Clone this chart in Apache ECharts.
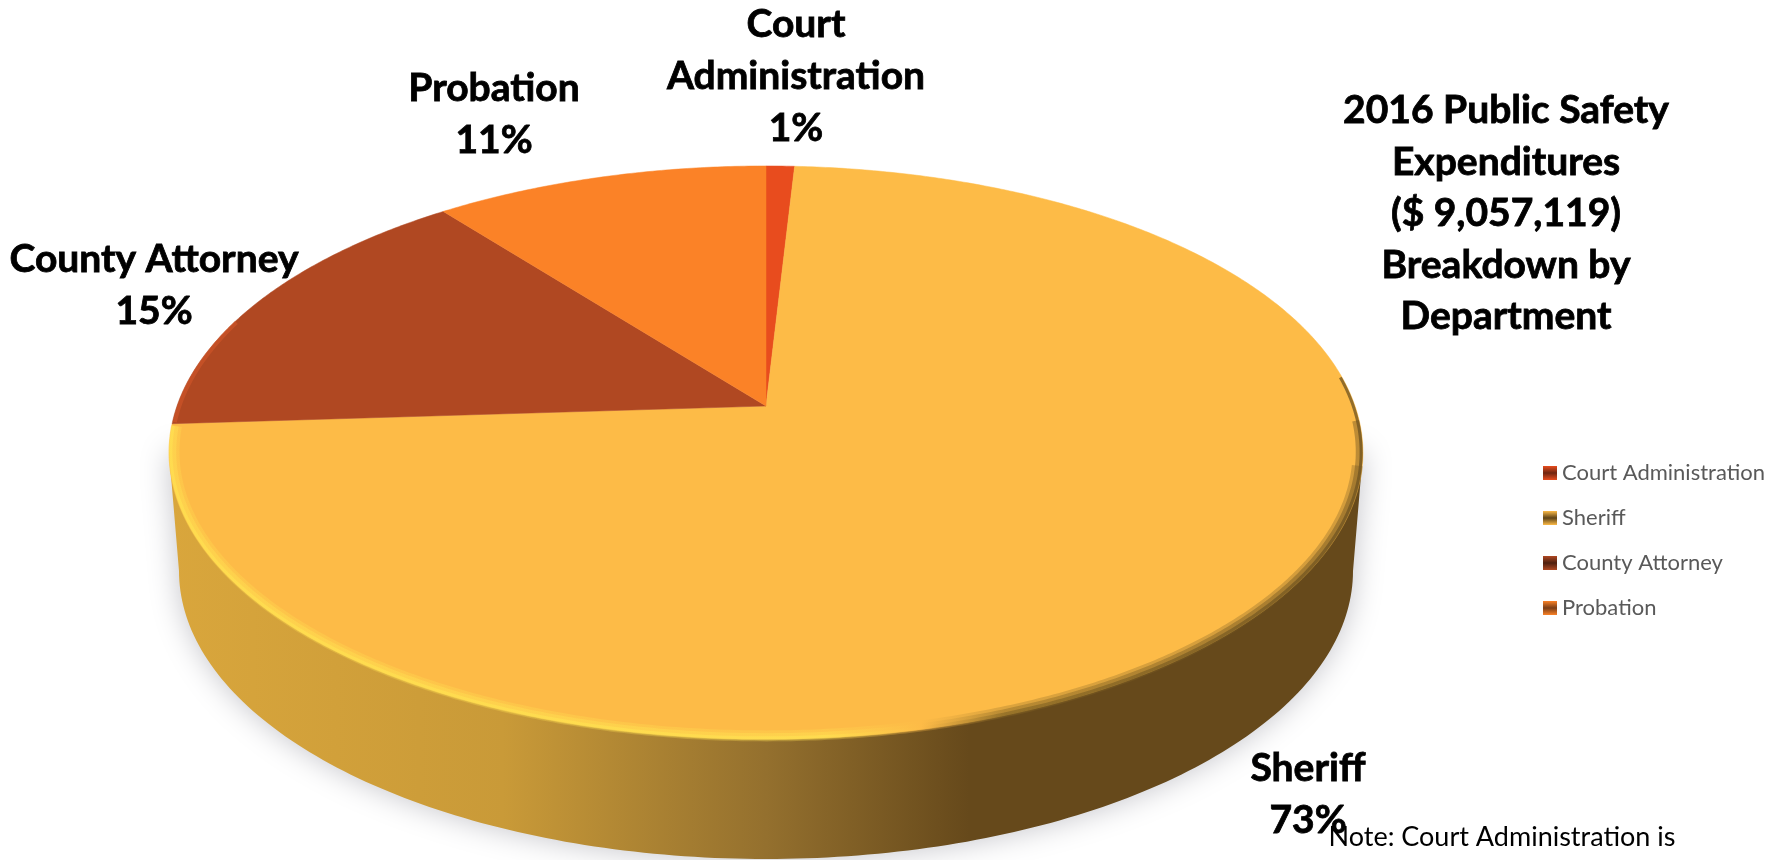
<!DOCTYPE html>
<html>
<head>
<meta charset="utf-8">
<title>2016 Public Safety Expenditures</title>
<script src="https://cdn.jsdelivr.net/npm/echarts@6/dist/echarts.min.js"></script>
<style>
  html, body { margin: 0; padding: 0; background: #fff; overflow: hidden; }
  #chart { width: 1787px; height: 860px; }
</style>
</head>
<body>
<div id="chart"></div>
<script>
const departments = ["Court Administration", "Sheriff", "County Attorney", "Probation"];
const shares = [0.9, 73.1, 15.4, 10.6];
const wrappedNames = ["Court\nAdministration", "Sheriff", "County Attorney", "Probation"];
const titleLines = ["2016 Public Safety", "Expenditures", "($ 9,057,119)", "Breakdown by", "Department"];
const noteText = "Note: Court Administration is";

const sliceColors = ["#E84C1E", "#FDBB47", "#B04822", "#FB8227"];
const legendDark = ["#6E2610", "#5E4317", "#4E200F", "#7A3E18"];
const rimTint = [null, null, "#D2562A", null];
const labelX = [796, 1308, 154, 494];
const labelY = [76, 794, 285, 114];

const FONT = "Lato, Carlito, sans-serif";
const total = shares.reduce((a, b) => a + b, 0);

// tilted disc: unit circle pushed through a perspective map, so the apex sits off the ellipse centre
const disc = { cx: 766, cy: 406, rx: 589, ry: 279, k: 0.1623 };
const base = { cx: 766, cy: 571, rx: 587, ry: 288 };

function rimPoint(deg, scale) {
  const t = deg * Math.PI / 180;
  const u = Math.sin(t) * (scale || 1);
  const v = -Math.cos(t) * (scale || 1);
  const w = 1 - disc.k * v;
  return [disc.cx + disc.rx * u / w, disc.cy + disc.ry * v / w];
}

function arc(from, to, scale) {
  const pts = [];
  const steps = Math.max(2, Math.ceil(Math.abs(to - from) * 2));
  for (let i = 0; i <= steps; i++) {
    pts.push(rimPoint(from + (to - from) * i / steps, scale));
  }
  return pts;
}

function sideWall() {
  const pts = [];
  for (let a = 0; a <= 180; a += 1) {
    const t = a * Math.PI / 180;
    pts.push([base.cx + base.rx * Math.cos(t), base.cy + base.ry * Math.sin(t)]);
  }
  pts.push([169, 452], [1363, 452]);
  return pts;
}

const sideFill = new echarts.graphic.LinearGradient(0, 0, 1, 0, [
  { offset: 0, color: "#D9A63C" },
  { offset: 0.28, color: "#C99A38" },
  { offset: 0.5, color: "#94702E" },
  { offset: 0.67, color: "#66491B" },
  { offset: 1, color: "#66491B" }
]);
const bevelStroke = new echarts.graphic.LinearGradient(0, 0, 1, 0, [
  { offset: 0, color: "#FFDF50" },
  { offset: 0.55, color: "#FFDF50" },
  { offset: 0.63, color: "#FDBB47" },
  { offset: 0.7, color: "#8E6C26" },
  { offset: 1, color: "#6E5220" }
]);
const bevelLayers = [
  { width: 11, opacity: 0.3, scale: 0.992, from: 102 },
  { width: 7, opacity: 0.45, scale: 0.994, from: 93 },
  { width: 3, opacity: 0.75, scale: 0.997, from: 84 }
];

function renderSlice(index) {
  return function (params, api) {
    const before = shares.slice(0, index).reduce((a, b) => a + b, 0);
    const start = before / total * 360;
    const end = start + api.value(0) / total * 360;
    const holdsFront = start < 180 && end > 180;
    const children = [];

    // the wall is only seen under the slice that holds the front of the disc
    if (holdsFront) {
      children.push({
        type: "polygon",
        shape: { points: sideWall() },
        style: { fill: sideFill, shadowBlur: 30, shadowColor: "rgba(40,40,60,0.28)" }
      });
    }

    children.push({
      type: "polygon",
      shape: { points: [[disc.cx, disc.cy]].concat(arc(start, end)) },
      style: { fill: sliceColors[index], stroke: sliceColors[index], lineWidth: 0.5 }
    });

    if (holdsFront) {
      bevelLayers.forEach((layer) => {
        children.push({
          type: "polyline",
          shape: { points: arc(layer.from, end - 0.5, layer.scale) },
          style: { fill: null, stroke: bevelStroke, lineWidth: layer.width, opacity: layer.opacity }
        });
      });
    }

    if (rimTint[index]) {
      children.push({
        type: "polyline",
        shape: { points: arc(start + 0.3, start + 22, 0.996) },
        style: { fill: null, stroke: rimTint[index], lineWidth: 4, opacity: 0.6 }
      });
    }

    children.push({
      type: "text",
      style: {
        x: labelX[index],
        y: labelY[index],
        text: wrappedNames[index] + "\n" + Math.round(api.value(0)) + "%",
        fill: "#000",
        stroke: "#000",
        lineWidth: 0.8,
        fontFamily: FONT,
        fontWeight: "bold",
        fontSize: 39,
        lineHeight: 52,
        align: "center",
        verticalAlign: "middle"
      }
    });
    return { type: "group", children: children };
  };
}

const chart = echarts.init(document.getElementById("chart"));
chart.setOption({
  animation: false,
  backgroundColor: "#fff",
  title: [
    {
      text: titleLines.join("\n"),
      left: 1501,
      top: 80,
      textAlign: "center",
      textStyle: {
        fontFamily: FONT,
        fontWeight: "bold",
        fontSize: 39,
        lineHeight: 51.5,
        color: "#000",
        textBorderColor: "#000",
        textBorderWidth: 0.8
      }
    },
    {
      text: noteText,
      left: 1497,
      top: 815,
      textAlign: "center",
      textStyle: { fontFamily: FONT, fontWeight: "normal", fontSize: 27, lineHeight: 34, color: "#000" }
    }
  ],
  legend: {
    orient: "vertical",
    left: 1543,
    top: 462,
    padding: 0,
    itemWidth: 14,
    itemHeight: 14,
    itemGap: 23,
    selectedMode: false,
    textStyle: { fontFamily: FONT, fontSize: 22, color: "#595959" },
    data: departments.map((name, i) => ({
      name: name,
      icon: "rect",
      itemStyle: {
        color: new echarts.graphic.LinearGradient(0, 0, 0, 1, [
          { offset: 0, color: sliceColors[i] },
          { offset: 0.5, color: legendDark[i] },
          { offset: 1, color: sliceColors[i] }
        ])
      }
    }))
  },
  series: departments.map((name, i) => ({
    type: "custom",
    name: name,
    coordinateSystem: "none",
    silent: true,
    itemStyle: { color: sliceColors[i] },
    renderItem: renderSlice(i),
    data: [[shares[i]]]
  }))
});
</script>
</body>
</html>
